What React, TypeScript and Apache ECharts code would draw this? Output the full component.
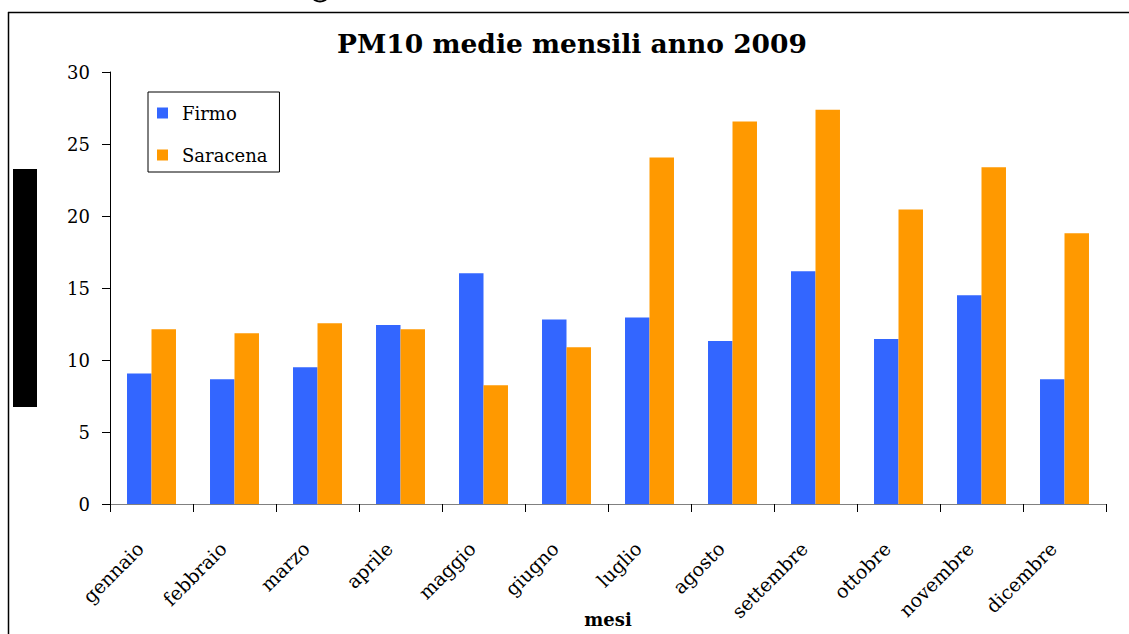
import React, { useEffect, useRef } from "react";
import * as echarts from "echarts";

const months = [
  "gennaio", "febbraio", "marzo", "aprile", "maggio", "giugno",
  "luglio", "agosto", "settembre", "ottobre", "novembre", "dicembre",
];
const firmo = [9.07, 8.66, 9.49, 12.43, 16.02, 12.82, 12.96, 11.32, 16.16, 11.46, 14.49, 8.66];
const saracena = [12.13, 11.85, 12.55, 12.13, 8.24, 10.88, 24.07, 26.57, 27.38, 20.46, 23.38, 18.8];
const seriesNames = ["Firmo", "Saracena"];
const seriesColors = ["#3366FF", "#FF9900"];

const FONT = "DejaVu Serif";

export default function App() {
  const ref = useRef<HTMLDivElement>(null);

  useEffect(() => {
    document.body.style.margin = "0";
    const chart = echarts.init(ref.current!, null, { renderer: "svg" });
    chart.setOption({
      animation: false,
      backgroundColor: "#ffffff",
      title: {
        text: "PM10 medie mensili anno 2009",
        left: 567,
        textAlign: "center",
        top: 25,
        textStyle: { fontFamily: FONT, fontWeight: "bold", fontSize: 26.5, color: "#000" },
      },
      legend: {
        orient: "vertical",
        left: 148,
        top: 92,
        width: 134,
        padding: [11, 12, 7, 9],
        itemGap: 22,
        itemWidth: 11,
        itemHeight: 11,
        borderColor: "#000",
        borderWidth: 1,
        icon: "rect",
        data: seriesNames,
        textStyle: {
          fontFamily: FONT,
          fontSize: 18,
          lineHeight: 20,
          color: "#000",
          padding: [0, 0, 0, 9],
        },
      },
      grid: { left: 110, right: 23, top: 72, bottom: 130, outerBoundsMode: "none" },
      xAxis: {
        type: "category",
        data: months,
        name: "mesi",
        nameLocation: "middle",
        nameGap: 106,
        nameMoveOverlap: false,
        nameTextStyle: { fontFamily: FONT, fontWeight: "bold", fontSize: 18, color: "#000" },
        axisLine: { lineStyle: { color: "#808080", width: 1 } },
        axisTick: { show: true, length: 8, lineStyle: { color: "#000" } },
        axisLabel: {
          rotate: 45,
          interval: 0,
          margin: 30,
          padding: [0, 16, 0, 0],
          fontFamily: FONT,
          fontSize: 19,
          color: "#000",
        },
      },
      yAxis: {
        type: "value",
        min: 0,
        max: 30,
        interval: 5,
        splitLine: { show: false },
        axisLine: { show: true, lineStyle: { color: "#000", width: 1 } },
        axisTick: { show: true, length: 8, lineStyle: { color: "#000" } },
        axisLabel: { margin: 20, fontFamily: FONT, fontSize: 18, color: "#000" },
      },
      series: [
        {
          name: seriesNames[0],
          type: "bar",
          data: firmo,
          itemStyle: { color: seriesColors[0] },
          barGap: "0%",
          barCategoryGap: "41%",
        },
        {
          name: seriesNames[1],
          type: "bar",
          data: saracena,
          itemStyle: { color: seriesColors[1] },
          barGap: "0%",
          barCategoryGap: "41%",
        },
      ],
      graphic: [
        {
          type: "line",
          shape: { x1: 8.5, y1: 12, x2: 8.5, y2: 634 },
          style: { stroke: "#000", lineWidth: 1.5 },
        },
        {
          type: "line",
          shape: { x1: 8, y1: 12.5, x2: 1129, y2: 12.5 },
          style: { stroke: "#000", lineWidth: 1.5 },
        },
        {
          type: "rect",
          shape: { x: 13, y: 169, width: 24, height: 238 },
          style: { fill: "#000" },
        },
        {
          // lower curve of a heading glyph above the frame
          type: "ellipse",
          shape: { cx: 320, cy: -3, rx: 7, ry: 4.5 },
          style: { fill: "none", stroke: "#000", lineWidth: 2 },
        },
      ],
    });
    return () => chart.dispose();
  }, []);

  return (
    <div
      ref={ref}
      style={{ position: "absolute", left: 0, top: 0, width: 1129, height: 634 }}
    />
  );
}
